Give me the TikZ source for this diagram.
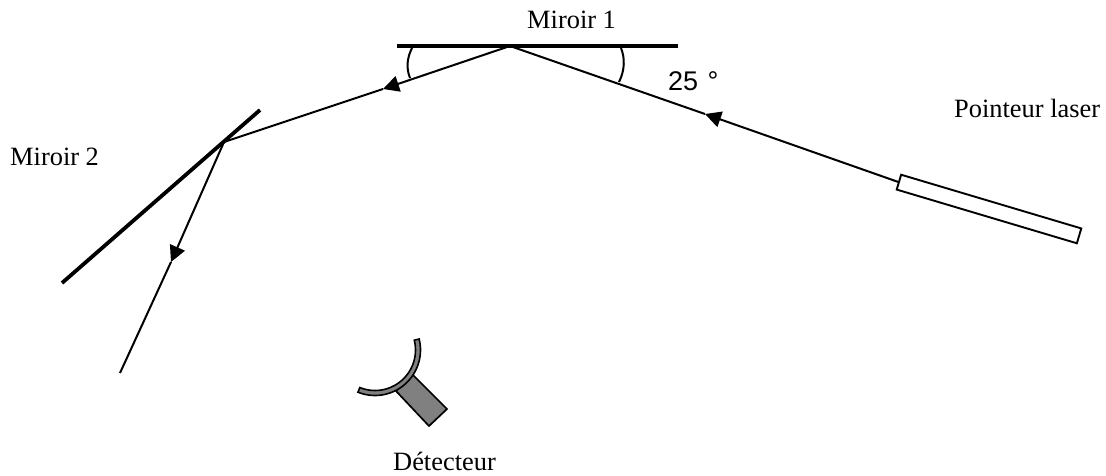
\documentclass[tikz,border=0pt]{standalone}
\usepackage{fontspec}
\setmainfont{Liberation Serif}
\newfontfamily\helv{Liberation Sans}
\usetikzlibrary{arrows.meta,calc}
\tikzset{
  x=1pt,y=-1pt,
  ray/.style={line width=2pt,draw=black},
  rayhead/.style={ray,-{Triangle[length=16pt,width=16pt]}},
  mirrorline/.style={line width=3.8pt,draw=black},
  anglearc/.style={line width=2pt,draw=black},
  lbl/.style={font=\fontsize{26.4}{30}\selectfont,inner sep=0pt,anchor=base west},
}
\begin{document}
\begin{tikzpicture}
\useasboundingbox (0,0) rectangle (1106,475);
% named points
\coordinate (m1a) at (397,46);
\coordinate (m1b) at (678,46);
\coordinate (hit1) at (510,46);
\coordinate (m2a) at (260,110);
\coordinate (m2b) at (62,283);
\coordinate (hit2) at (224,142);
\coordinate (rayend) at (120,373);
\coordinate (tipA) at (705,114);
\coordinate (tipB) at (383,89);
\coordinate (tipC) at (171,262);
% laser
\node[draw=black,line width=1.9pt,fill=white,minimum width=188pt,minimum height=15.5pt,inner sep=0pt,rotate=-16.6] (laser) at (989,209) {};
% rays
\draw[rayhead] (laser.west) -- (tipA);
\draw[ray] (tipA) -- (hit1);
\draw[rayhead] (hit1) -- (tipB);
\draw[ray] (tipB) -- (hit2);
\draw[rayhead] (hit2) -- (tipC);
\draw[ray] (tipC) -- (rayend);
% mirrors
\draw[mirrorline] (m1a) -- (m1b);
\draw[mirrorline] (m2a) -- (m2b);
% angle arcs
\draw[anglearc] (621,48) .. controls (625,58) and (625,70) .. (619,82);
\draw[anglearc] (412,48) .. controls (407,58) and (406,68) .. (410,78);
% detector
\coordinate (detc) at (375,350);
\draw[line width=1.7pt,fill=gray] (413,375) -- (447,409) -- (429,426) -- (396,391) -- cycle;
\draw[line width=1.6pt,fill=gray] ($(detc)+(14:45.5pt)$) arc[start angle=14,end angle=-112,radius=45.5pt]
  -- ($(detc)+(-112:40.5pt)$) arc[start angle=-112,end angle=14,radius=40.5pt] -- cycle;
% labels
\node[lbl] (t1) at (527,28) {Miroir 1};
\node[lbl] (t2) at (10,165) {Miroir 2};
\node[lbl] (t3) at (954,117) {Pointeur laser};
\node[lbl] (t4) at (393,470.5) {Détecteur};
\node[lbl,font=\helv\fontsize{27}{31}\selectfont] (t5) at (668,90) {25 \kern2pt °};
\end{tikzpicture}
\end{document}
